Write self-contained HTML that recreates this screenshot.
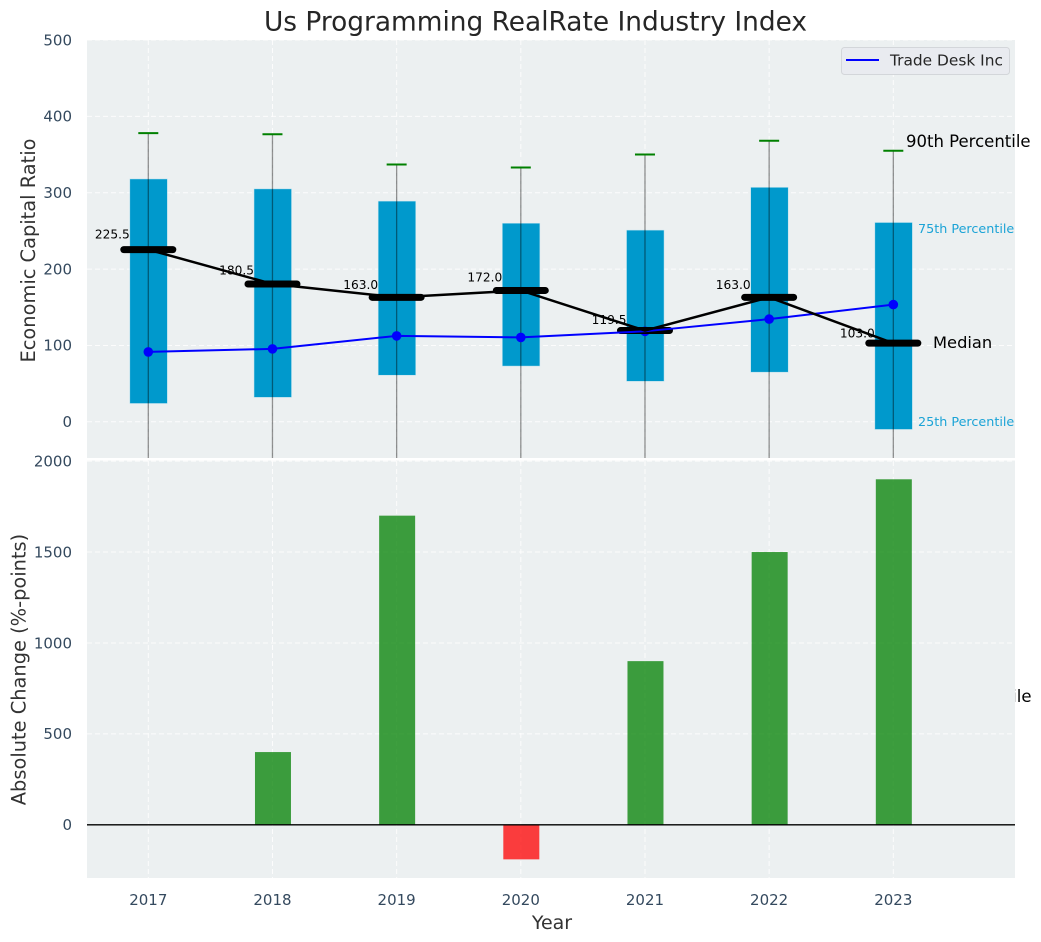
<!DOCTYPE html>
<html lang="en">
<head>
<meta charset="utf-8">
<title>Us Programming RealRate Industry Index</title>
<style>
html,body{margin:0;padding:0;background:#fff;}
svg{display:block;font-family:"DejaVu Sans","Liberation Sans",sans-serif;}
</style>
</head>
<body>
<svg id="chart" xmlns="http://www.w3.org/2000/svg" width="1041" height="942" viewBox="0 0 1041 942">
  <defs>
    <clipPath id="top-clip"><rect x="87" y="40" width="928" height="418"/></clipPath>
  </defs>
  <text x="1031.5" y="702" text-anchor="end" font-size="16.5" fill="#000">90th Percentile</text>
  <rect x="87" y="40" width="928" height="418" fill="#ecf0f1"/>
  <rect x="87" y="460.5" width="928" height="417.5" fill="#ecf0f1"/>
  <g id="grid-layer"></g>
  <g id="bottom-layer"></g>
  <g id="top-layer" clip-path="url(#top-clip)"></g>
  <g id="label-layer"></g>
  <g id="tick-layer"></g>
  <text x="535.5" y="30.5" text-anchor="middle" font-size="26.4" fill="#262626">Us Programming RealRate Industry Index</text>
  <text transform="translate(35,250.5) rotate(-90)" text-anchor="middle" font-size="19.4" fill="#333">Economic Capital Ratio</text>
  <text transform="translate(25.5,669.5) rotate(-90)" text-anchor="middle" font-size="19.4" fill="#333">Absolute Change (%-points)</text>
  <text x="552" y="929" text-anchor="middle" font-size="19" fill="#333">Year</text>
  <text x="906" y="147" font-size="16.5" fill="#000">90th Percentile</text>
  <text x="918" y="233" font-size="12.75" fill="#1ba3d6">75th Percentile</text>
  <text x="933" y="348" font-size="16.3" fill="#000">Median</text>
  <text x="918" y="426" font-size="12.75" fill="#1ba3d6">25th Percentile</text>
  <g>
    <rect x="841.5" y="47.5" width="168" height="27" rx="3" fill="#e9ebf0" stroke="#d3d6da" stroke-width="1"/>
    <line x1="846" y1="60" x2="879" y2="60" stroke="#0000ff" stroke-width="2"/>
    <text x="890" y="65.5" font-size="15.4" fill="#262626">Trade Desk Inc</text>
  </g>
</svg>
<script>
const years = [2017, 2018, 2019, 2020, 2021, 2022, 2023];
const p90 = [378, 376.5, 337, 333, 350, 368, 355];
const p75 = [318, 305, 289, 260, 251, 307, 261];
const medians = [225.5, 180.5, 163.0, 172.0, 119.5, 163.0, 103.0];
const p25 = [24, 32, 61, 73, 53, 65, -10];
const p10 = [-80, -75, -70, -65, -70, -70, -90];
const tradeDesk = [91.5, 95.5, 112.5, 110.5, 118.5, 134.5, 153.5];
const absChange = [0, 400, 1700, -190, 900, 1500, 1900];
const topTicks = [0, 100, 200, 300, 400, 500];
const bottomTicks = [0, 500, 1000, 1500, 2000];

const NS = 'http://www.w3.org/2000/svg';
const xPos = v => 148.3 + (v - 2017) * 124.17;
const yTop = v => 421.8 - v * 0.7636;
const yBottom = v => 824.8 - v * 0.18185;
const BOX_W = 37.5, BAR_W = 36, MED_HALF = 24.5, CAP_HALF = 10;

function make(parent, tag, attrs, text) {
  const el = document.createElementNS(NS, tag);
  for (const k in attrs) el.setAttribute(k, attrs[k]);
  if (text !== undefined) el.textContent = text;
  parent.appendChild(el);
  return el;
}

const gridLayer = document.getElementById('grid-layer');
const bottomLayer = document.getElementById('bottom-layer');
const topLayer = document.getElementById('top-layer');
const labelLayer = document.getElementById('label-layer');
const tickLayer = document.getElementById('tick-layer');
const gridStyle = {stroke: '#ffffff', 'stroke-width': 1, 'stroke-dasharray': '5 3', opacity: 0.85};
const tickColor = '#34495e';

topTicks.forEach(t => {
  const y = yTop(t);
  const line = make(gridLayer, 'line', Object.assign({x1: 87, x2: 1015, y1: y, y2: y}, gridStyle));
  
  
  const label = make(tickLayer, 'text', {x: 72, y: y + 5.3, 'text-anchor': 'end', 'font-size': 15, fill: tickColor}, String(t));
  
  
});

bottomTicks.forEach(t => {
  const y = yBottom(t);
  const line = make(gridLayer, 'line', Object.assign({x1: 87, x2: 1015, y1: y, y2: y}, gridStyle));
  
  
  const label = make(tickLayer, 'text', {x: 72, y: y + 5.3, 'text-anchor': 'end', 'font-size': 15, fill: tickColor}, String(t));
  
  
});

years.forEach(yr => {
  const x = xPos(yr);
  const topLine = make(gridLayer, 'line', Object.assign({x1: x, x2: x, y1: 40, y2: 458}, gridStyle));
  
  
  const botLine = make(gridLayer, 'line', Object.assign({x1: x, x2: x, y1: 461, y2: 878}, gridStyle));
  
  
  const label = make(tickLayer, 'text', {x: x, y: 905, 'text-anchor': 'middle', 'font-size': 15, fill: tickColor}, String(yr));
  
  
});

/* bottom panel bars */
absChange.forEach((v, i) => {
  const x = xPos(years[i]);
  const y0 = yBottom(0), y1 = yBottom(v);
  const bar = make(bottomLayer, 'rect', {
    x: x - BAR_W / 2 + 0.5, y: Math.min(y0, y1), width: BAR_W, height: Math.abs(y1 - y0),
    fill: v >= 0 ? '#008000' : '#ff0000', 'fill-opacity': 0.75
  });
  
  
});
const zeroLine = make(bottomLayer, 'line', {x1: 87, x2: 1015, y1: yBottom(0), y2: yBottom(0), stroke: '#000', 'stroke-width': 1.3});



/* top panel boxes */
years.forEach((yr, i) => {
  const x = xPos(yr);
  const box = make(topLayer, 'rect', {
    x: x - BOX_W / 2 + 0.3, y: yTop(p75[i]), width: BOX_W, height: yTop(p25[i]) - yTop(p75[i]),
    fill: '#0099cc', stroke: '#bfe3ef', 'stroke-width': 0.5
  });
  
  
});

/* whiskers and caps */
years.forEach((yr, i) => {
  const x = xPos(yr);
  const whisker = make(topLayer, 'line', {x1: x, x2: x, y1: yTop(p90[i]), y2: yTop(p10[i]), stroke: '#000', 'stroke-opacity': 0.42, 'stroke-width': 1.3});
  
  
  const cap = make(topLayer, 'line', {x1: x - CAP_HALF, x2: x + CAP_HALF, y1: yTop(p90[i]), y2: yTop(p90[i]), stroke: '#008000', 'stroke-width': 2});
  
  
});

/* trade desk markers beneath the median bars */
years.forEach((yr, i) => {
  const dot = make(topLayer, 'circle', {cx: xPos(yr), cy: yTop(tradeDesk[i]), r: 4.8, fill: '#0000ff'});
  
  
});

/* median bars */
years.forEach((yr, i) => {
  const x = xPos(yr), y = yTop(medians[i]);
  const bar = make(topLayer, 'line', {x1: x - MED_HALF, x2: x + MED_HALF, y1: y, y2: y, stroke: '#000', 'stroke-width': 7, 'stroke-linecap': 'round'});
  
  
});

const blueLine = make(topLayer, 'polyline', {
  points: years.map((yr, i) => xPos(yr) + ',' + yTop(tradeDesk[i])).join(' '),
  fill: 'none', stroke: '#0000ff', 'stroke-width': 2
});



/* median labels, sitting beneath the median connector */
years.forEach((yr, i) => {
  const label = make(labelLayer, 'text', {x: xPos(yr) - 18.5, y: yTop(medians[i] * 1.06) - 1, 'text-anchor': 'end', 'font-size': 12.2, fill: '#000'}, medians[i].toFixed(1));
  
  
});

const medianLine = make(labelLayer, 'polyline', {
  points: years.map((yr, i) => xPos(yr) + ',' + yTop(medians[i])).join(' '),
  fill: 'none', stroke: '#000', 'stroke-width': 2.5
});


</script>
</body>
</html>
